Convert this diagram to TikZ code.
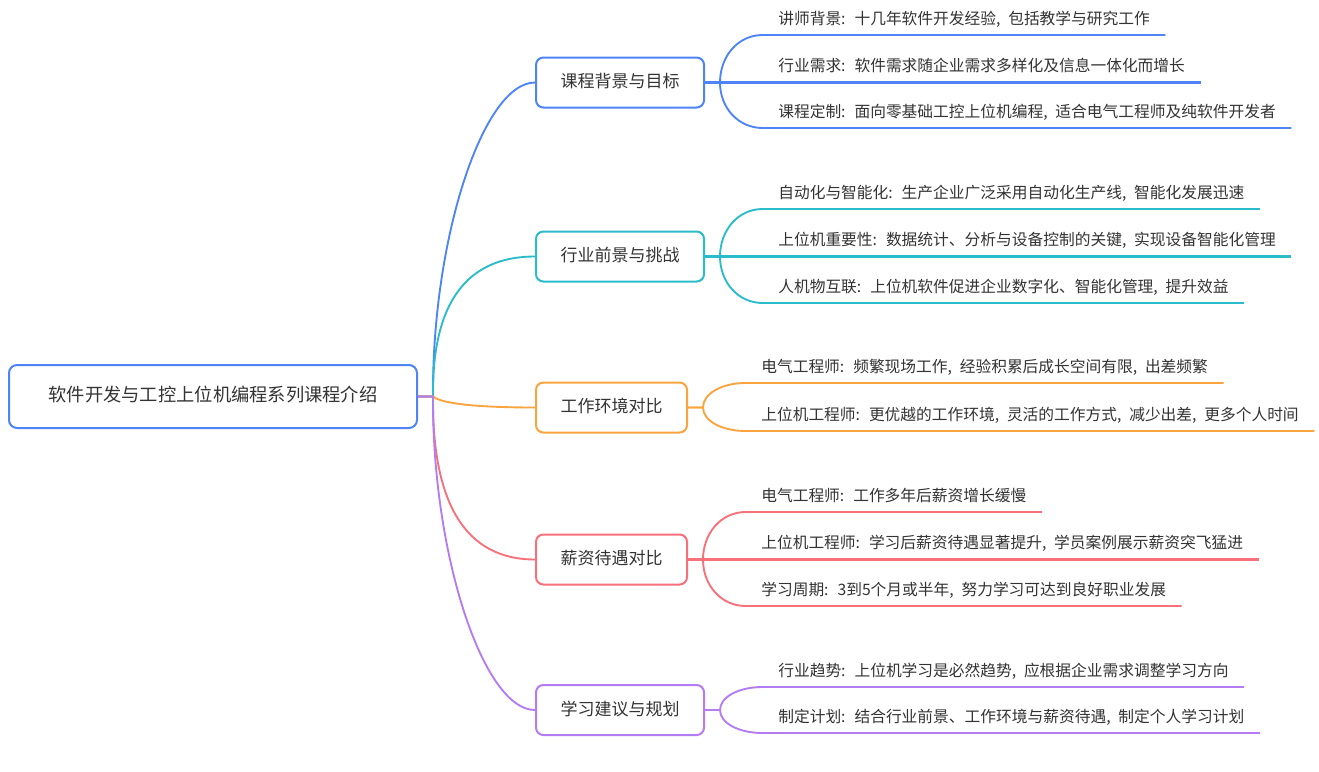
\documentclass[tikz,border=0pt]{standalone}
\usepackage{fontspec}
\usetikzlibrary{calc}
\newfontfamily\cjk[WordSpace=2.2]{Noto Sans CJK SC}
\definecolor{cblue}{HTML}{4E84F6}
\definecolor{cteal}{HTML}{2BBCCB}
\definecolor{corange}{HTML}{FBA33F}
\definecolor{cred}{HTML}{F8707A}
\definecolor{cpurple}{HTML}{B47CF2}
\definecolor{tgray}{HTML}{333333}
\begin{document}
\begin{tikzpicture}[x=0.75pt,y=-0.75pt,
  rootbox/.style={draw=cblue,line width=1.5pt,rounded corners=6pt,fill=white,
    minimum width=306pt,minimum height=47.25pt,inner sep=0pt,text=tgray,
    font=\cjk\fontsize{13.7pt}{16pt}\selectfont,text height=0.88em,text depth=0.12em},
  branchbox/.style={draw=#1,line width=1.5pt,rounded corners=5.5pt,fill=white,
    minimum height=37.5pt,inner sep=0pt,text=tgray,anchor=west,
    font=\cjk\fontsize{12.75pt}{15pt}\selectfont,text height=0.88em,text depth=0.12em},
  wide/.style={minimum width=126pt},
  narrow/.style={minimum width=113.25pt},
  leaf/.style={anchor=south west,inner xsep=11.5pt,inner ysep=6.8pt,text=tgray,
    font=\cjk\fontsize{11.8pt}{14pt}\selectfont,text height=0.88em,text depth=0.12em},
  conn/.style={draw=#1,line width=1.4pt},
  midline/.style={fill=#1}
]
\useasboundingbox (0,0) rectangle (1319,771);
\fill[white] (0,0) rectangle (1319,771);

% nodes
\node[rootbox] (root) at (213,396.5) {软件开发与工控上位机编程系列课程介绍};
\node[branchbox=cblue,wide] (b1) at (535,82.5) {课程背景与目标};
\node[branchbox=cteal,wide] (b2) at (535,256.5) {行业前景与挑战};
\node[branchbox=corange,narrow] (b3) at (535,407.5) {工作环境对比};
\node[branchbox=cred,narrow] (b4) at (535,559.5) {薪资待遇对比};
\node[branchbox=cpurple,wide] (b5) at (535,710) {学习建议与规划};

\node[leaf] (l11) at (762.7,35) {讲师背景: 十几年软件开发经验, 包括教学与研究工作};
\node[leaf] (l12) at (762.7,82.5) {行业需求: 软件需求随企业需求多样化及信息一体化而增长};
\node[leaf] (l13) at (762.7,128) {课程定制: 面向零基础工控上位机编程, 适合电气工程师及纯软件开发者};

\node[leaf] (l21) at (762.7,209) {自动化与智能化: 生产企业广泛采用自动化生产线, 智能化发展迅速};
\node[leaf] (l22) at (762.7,256.5) {上位机重要性: 数据统计、分析与设备控制的关键, 实现设备智能化管理};
\node[leaf] (l23) at (762.7,303) {人机物互联: 上位机软件促进企业数字化、智能化管理, 提升效益};

\node[leaf] (l31) at (745.7,383) {电气工程师: 频繁现场工作, 经验积累后成长空间有限, 出差频繁};
\node[leaf] (l32) at (745.7,431) {上位机工程师: 更优越的工作环境, 灵活的工作方式, 减少出差, 更多个人时间};

\node[leaf] (l41) at (745.7,512) {电气工程师: 工作多年后薪资增长缓慢};
\node[leaf] (l42) at (745.7,559.5) {上位机工程师: 学习后薪资待遇显著提升, 学员案例展示薪资突飞猛进};
\node[leaf] (l43) at (745.7,606) {学习周期: 3到5个月或半年, 努力学习可达到良好职业发展};

\node[leaf] (l51) at (762.7,687) {行业趋势: 上位机学习是必然趋势, 应根据企业需求调整学习方向};
\node[leaf] (l52) at (762.7,733) {制定计划: 结合行业前景、工作环境与薪资待遇, 制定个人学习计划};

% root to branches
\draw[conn=cblue] (root.east) -- ++(15,0) .. controls (432,239) and (483,82.5) .. (b1.west);
\draw[conn=cteal] (root.east) -- ++(15,0) .. controls (432,303.2) and (466.3,256.5) .. (b2.west);
\draw[conn=corange] (root.east) -- ++(15,0) .. controls (442,404) and (480,407.5) .. (b3.west);
\draw[conn=cred] (root.east) -- ++(15,0) .. controls (432,504.8) and (466.3,559.5) .. (b4.west);
\draw[conn=cpurple] (root.east) -- ++(15,0) .. controls (432,553) and (483,710) .. (b5.west);

% branch 1
\draw[conn=cblue] (b1.east) -- ++(15,0) .. controls +(0,-26.3) and +(-24.7,0) .. (l11.south west) -- (l11.south east);
\fill[midline=cblue] ($(b1.east)+(0,-1.05)$) rectangle ($(l12.south east)+(0,1.05)$);
\draw[conn=cblue] (b1.east) -- ++(15,0) .. controls +(0,25.1) and +(-24.7,0) .. (l13.south west) -- (l13.south east);
% branch 2
\draw[conn=cteal] (b2.east) -- ++(15,0) .. controls +(0,-26.2) and +(-24.7,0) .. (l21.south west) -- (l21.south east);
\fill[midline=cteal] ($(b2.east)+(0,-1.05)$) rectangle ($(l22.south east)+(0,1.05)$);
\draw[conn=cteal] (b2.east) -- ++(15,0) .. controls +(0,25.7) and +(-24.7,0) .. (l23.south west) -- (l23.south east);
% branch 3
\draw[conn=corange] (b3.east) -- ++(15,0) .. controls +(0,-13.5) and +(-24.7,0) .. (l31.south west) -- (l31.south east);
\draw[conn=corange] (b3.east) -- ++(15,0) .. controls +(0,13) and +(-24.7,0) .. (l32.south west) -- (l32.south east);
% branch 4
\draw[conn=cred] (b4.east) -- ++(15,0) .. controls +(0,-26.2) and +(-24.7,0) .. (l41.south west) -- (l41.south east);
\fill[midline=cred] ($(b4.east)+(0,-1.05)$) rectangle ($(l42.south east)+(0,1.05)$);
\draw[conn=cred] (b4.east) -- ++(15,0) .. controls +(0,25.7) and +(-24.7,0) .. (l43.south west) -- (l43.south east);
% branch 5
\draw[conn=cpurple] (b5.east) -- ++(15,0) .. controls +(0,-12.7) and +(-24.7,0) .. (l51.south west) -- (l51.south east);
\draw[conn=cpurple] (b5.east) -- ++(15,0) .. controls +(0,12.7) and +(-24.7,0) .. (l52.south west) -- (l52.south east);
\end{tikzpicture}
\end{document}
